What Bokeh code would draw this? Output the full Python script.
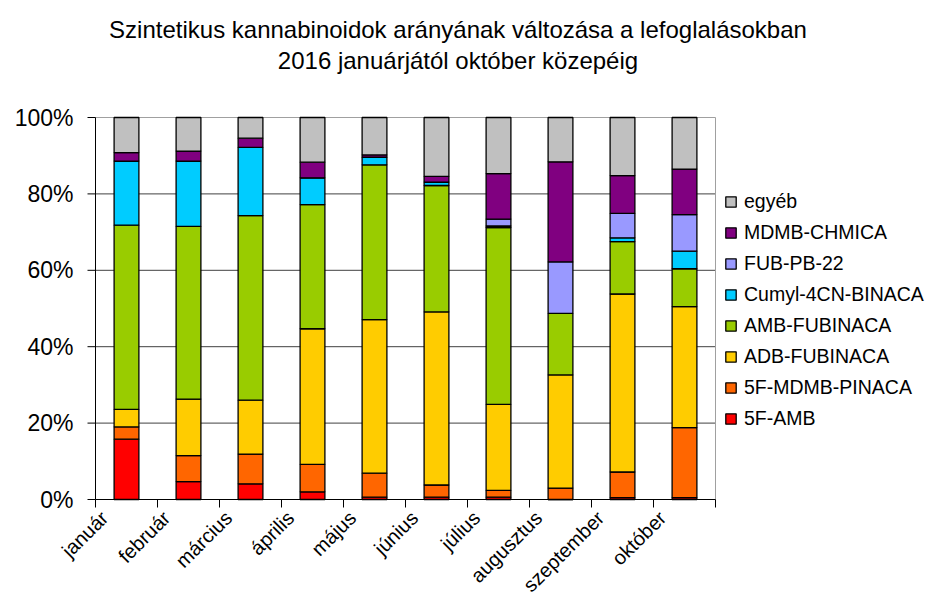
from bokeh.plotting import figure
from bokeh.models import ColumnDataSource, Legend, LegendItem, Range1d, Label
from bokeh.embed import file_html
from bokeh.resources import INLINE

months = ["január", "február", "március", "április", "május", "június",
          "július", "augusztus", "szeptember", "október"]

s_5f_amb      = [15.8, 4.7, 4.1, 2.0, 0.6, 0.6, 0.6, 0.0, 0.5, 0.5]
s_5f_mdmb     = [3.2, 6.8, 7.8, 7.2, 6.3, 3.2, 1.8, 3.0, 6.7, 18.3]
s_adb_fub     = [4.6, 14.8, 14.1, 35.5, 40.2, 45.3, 22.5, 29.6, 46.6, 31.7]
s_amb_fub     = [48.2, 45.2, 48.3, 32.5, 40.5, 33.1, 46.3, 16.1, 13.7, 9.9]
s_cumyl       = [16.8, 17.1, 17.9, 7.0, 2.0, 0.9, 0.4, 0.0, 1.0, 4.6]
s_fub_pb22    = [0.0, 0.0, 0.0, 0.0, 0.0, 0.0, 1.8, 13.5, 6.4, 9.6]
s_mdmb_chmica = [2.2, 2.6, 2.4, 4.1, 0.6, 1.5, 11.9, 26.2, 9.9, 11.9]
s_egyeb       = [9.2, 8.8, 5.4, 11.7, 9.8, 15.4, 14.7, 11.6, 15.2, 13.5]

series_names = ["5F-AMB", "5F-MDMB-PINACA", "ADB-FUBINACA", "AMB-FUBINACA",
                "Cumyl-4CN-BINACA", "FUB-PB-22", "MDMB-CHMICA", "egyéb"]
series_vals = [s_5f_amb, s_5f_mdmb, s_adb_fub, s_amb_fub, s_cumyl, s_fub_pb22,
               s_mdmb_chmica, s_egyeb]
colors = ["#FF0000", "#FF6600", "#FFCC00", "#99CC00", "#00CCFF", "#9999FF",
          "#800080", "#C0C0C0"]

y_ticks = [0, 20, 40, 60, 80, 100]
y_tick_labels = ["0%", "20%", "40%", "60%", "80%", "100%"]

# ---- layout constants (pixels) ----
W, H = 925, 596
LEFT_PX = 95          # y axis position
CAT_PX = 62           # width of one category slot
TOP_PX = 117          # 100% line
AXIS_PX = 499         # 0% line
FONT = "Liberation Sans"

n = len(months)
ppu = (AXIS_PX - TOP_PX) / 100.0
y_lo = -(H - AXIS_PX) / ppu
y_hi = 100 + TOP_PX / ppu
x_lo = -LEFT_PX / CAT_PX
x_hi = (W - LEFT_PX) / CAT_PX

centers = [i + 0.5 for i in range(n)]
bounds = list(range(n + 1))
data = {"x": centers}
for nm, v in zip(series_names, series_vals):
    data[nm] = v
source = ColumnDataSource(data)

p = figure(width=W, height=H, output_backend="svg", toolbar_location=None,
           x_range=Range1d(x_lo, x_hi), y_range=Range1d(y_lo, y_hi),
           x_axis_location=None, y_axis_location=None,
           min_border_left=0, min_border_right=0, min_border_top=0,
           min_border_bottom=0)
p.outline_line_color = None
p.xgrid.visible = False
p.ygrid.visible = False

# grid lines and plot border
grid_y = y_ticks[1:-1]
p.segment(x0=[0] * len(grid_y), x1=[n] * len(grid_y), y0=grid_y, y1=grid_y,
          line_color="#404040", line_width=1)
p.segment(x0=[0, n], x1=[n, n], y0=[100, 0], y1=[100, 100],
          line_color="#A0A0A0", line_width=1)

renderers = p.vbar_stack(series_names, x="x", width=0.4, color=colors,
                         line_color="black", line_width=1.3, source=source)

# x axis line and category boundary ticks
p.segment(x0=[0], x1=[n], y0=[0], y1=[0], line_color="black", line_width=1)
tick_len_y = 8 / ppu
p.segment(x0=bounds, x1=bounds, y0=[0] * len(bounds), y1=[-tick_len_y] * len(bounds),
          line_color="black", line_width=1)

# y axis line, ticks and labels
tick_len_x = 8 / CAT_PX
p.segment(x0=[0], x1=[0], y0=[0], y1=[100], line_color="black", line_width=1)
p.segment(x0=[-tick_len_x] * len(y_ticks), x1=[0] * len(y_ticks), y0=y_ticks, y1=y_ticks,
          line_color="black", line_width=1)
for yt, lab in zip(y_ticks, y_tick_labels):
    p.add_layout(Label(x=LEFT_PX - 22, y=yt, x_units="screen", y_units="data",
                       text=lab, text_align="right", text_baseline="middle",
                       text_font=FONT, text_font_size="23px", text_color="black"))

# legend
items = [LegendItem(label=nm, renderers=[r]) for nm, r in zip(series_names, renderers)]
items.reverse()
legend_center_px = TOP_PX + 0.506 * (AXIS_PX - TOP_PX)
legend_bottom_px = legend_center_px + 4 * 31
legend = Legend(items=items, location=(724, H - legend_bottom_px), orientation="vertical",
                padding=0, margin=0, spacing=0, border_line_color=None,
                background_fill_alpha=0, glyph_width=13, glyph_height=13,
                label_height=31, label_standoff=7,
                label_text_font=FONT, label_text_font_size="19.5px",
                label_text_color="black")
p.add_layout(legend, "center")

# rotated category labels
for c, m in zip(centers, months):
    p.add_layout(Label(x=c, y=H - (AXIS_PX + 15), x_units="data", y_units="screen",
                       x_offset=-22, text=m, angle=0.785398, text_align="right",
                       text_baseline="middle", text_font=FONT,
                       text_font_size="20px", text_color="black"))

# title
t1 = Label(x=457.5, y=H - 28.5, x_units="screen", y_units="screen",
           text="Szintetikus kannabinoidok arányának változása a lefoglalásokban",
           text_align="center", text_baseline="alphabetic", text_font=FONT,
           text_font_size="24px", text_color="black")
t2 = Label(x=457.5, y=H - 59.5, x_units="screen", y_units="screen",
           text="2016 januárjától október közepéig",
           text_align="center", text_baseline="alphabetic", text_font=FONT,
           text_font_size="24px", text_color="black")
p.add_layout(t1)
p.add_layout(t2)

open("out.html", "w").write(file_html(p, INLINE))
